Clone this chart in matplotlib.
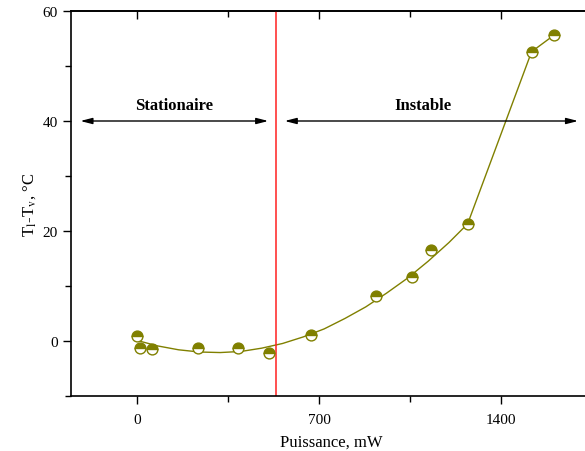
import numpy as np
import matplotlib.pyplot as plt
from matplotlib.ticker import MultipleLocator

plt.rcParams['font.family'] = ['Liberation Serif', 'DejaVu Serif']
plt.rcParams['mathtext.fontset'] = 'stix'

# measured points
power = [0, 12, 59, 233, 390, 507, 668, 919, 1056, 1131, 1272, 1518, 1604]
dT = [1.0, -1.3, -1.45, -1.3, -1.2, -2.1, 1.15, 8.2, 11.7, 16.5, 21.3, 52.6, 55.6]

# fitted curve then joined to the last points
fit_x = [0, 80, 160, 240, 320, 400, 480, 560, 640, 720, 800, 880, 960, 1040,
         1120, 1200, 1272, 1518, 1604]
fit_y = [0.1, -0.9, -1.6, -2.0, -2.1, -1.9, -1.3, -0.45, 0.75, 2.2, 4.1, 6.2,
         8.7, 11.4, 14.5, 17.9, 21.3, 52.6, 55.6]

limit = 535  # stationary / unstable boundary, mW
olive = '#808000'

fig = plt.figure(figsize=(5.85, 4.52), dpi=100)
ax = fig.add_axes([71/585, 1 - 397/452, 1 - 71/585 + 0.01, (397 - 12)/452])

ax.plot(fit_x, fit_y, color=olive, lw=1)
ax.plot(power, dT, ls='none', marker='o', ms=7.8, fillstyle='top',
        markerfacecolor=olive, markerfacecoloralt='white',
        markeredgecolor=olive, markeredgewidth=1, zorder=3)

ax.axvline(limit, color='#ff2020', lw=1.1)

arr = dict(arrowstyle='<|-|>,head_length=0.7,head_width=0.18', color='black', lw=1,
           shrinkA=0, shrinkB=0)
ax.annotate('', xy=(-218, 40), xytext=(505, 40), arrowprops=arr)
ax.annotate('', xy=(568, 40), xytext=(1697, 40), arrowprops=arr)
ax.text(143, 41.5, 'Stationaire', ha='center', va='bottom', fontsize=12, fontweight='bold')
ax.text(1100, 41.5, 'Instable', ha='center', va='bottom', fontsize=12, fontweight='bold')

ax.set_xlim(-254, 1746)
ax.set_ylim(-10, 60)
ax.xaxis.set_major_locator(MultipleLocator(700))
ax.xaxis.set_minor_locator(MultipleLocator(350))
ax.yaxis.set_major_locator(MultipleLocator(20))
ax.yaxis.set_minor_locator(MultipleLocator(10))
ax.tick_params(which='both', direction='out', labelsize=11, width=1)
ax.tick_params(which='major', length=6)
ax.tick_params(which='minor', length=4)
ax.tick_params(axis='x', which='major', pad=6)

# top axis: ticks only, pointing into the plot
top = ax.secondary_xaxis('top')
top.xaxis.set_major_locator(MultipleLocator(700))
top.xaxis.set_minor_locator(MultipleLocator(350))
top.tick_params(which='both', direction='in', labeltop=False, width=1)
top.tick_params(which='major', length=6)
top.tick_params(which='minor', length=4)
top.spines['top'].set_linewidth(1.2)

ax.spines['right'].set_visible(False)
for s in ax.spines.values():
    s.set_linewidth(1.2)

ax.set_xlabel('Puissance, mW', fontsize=12, labelpad=6)
ax.set_ylabel(r'T$_\mathrm{l}$-T$_\mathrm{v}$, °C', fontsize=12, labelpad=3)

plt.savefig('out.png', dpi=100)
